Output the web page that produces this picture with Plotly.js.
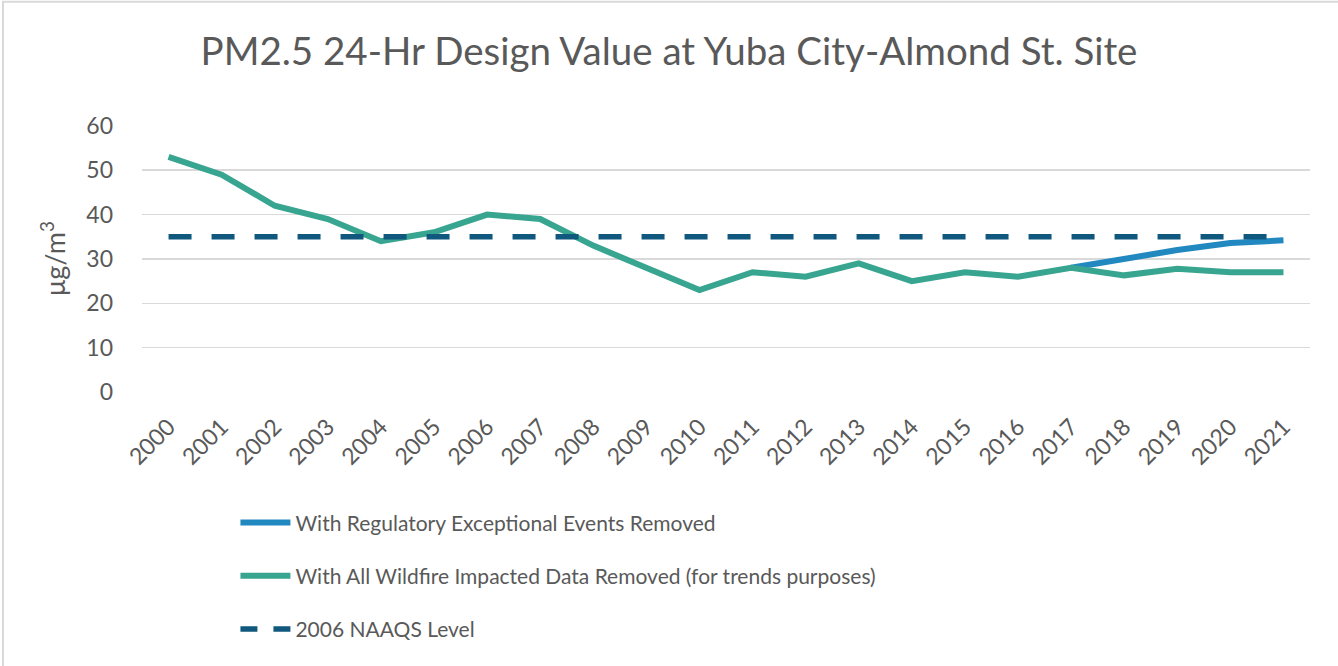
<!DOCTYPE html>
<html>
<head>
<meta charset="utf-8">
<script src="https://cdn.plot.ly/plotly-3.0.1.min.js"></script>
<style>html,body{margin:0;padding:0;background:#fff;}#chart{width:1338px;height:666px;}</style>
</head>
<body>
<div id="chart"></div>
<script>
const years = ["2000","2001","2002","2003","2004","2005","2006","2007","2008","2009","2010","2011","2012","2013","2014","2015","2016","2017","2018","2019","2020","2021"];
const regulatoryRemoved = [null,null,null,null,null,null,null,null,null,null,null,null,null,null,null,null,null,28,30,32,33.6,34.2];
const wildfireRemoved = [53,49,42,39,34,36,40,39,33,28,23,27,26,29,25,27,26,28,26.3,27.8,27,27];
const naaqs = [35,35,35,35,35,35,35,35,35,35,35,35,35,35,35,35,35,35,35,35,35,35];
const yTicks = [0,10,20,30,40,50,60];
const seriesNames = ['With Regulatory Exceptional Events Removed', 'With All Wildfire Impacted Data Removed (for trends purposes)', '2006 NAAQS Level'];

const txt = '#595959';
const fontFam = 'Lato, "Open Sans", sans-serif';

const traces = [
  {x: years, y: regulatoryRemoved, name: seriesNames[0], type: 'scatter', mode: 'lines',
   line: {color: '#2188c0', width: 6}, legendgroup: 'a', connectgaps: false},
  {x: years, y: wildfireRemoved, name: seriesNames[1], type: 'scatter', mode: 'lines',
   line: {color: '#38a590', width: 6}, legendgroup: 'b'},
  {x: years, y: naaqs, name: seriesNames[2], type: 'scatter', mode: 'lines', showlegend: false,
   line: {color: '#11587e', width: 5.5, dash: '23px,20px'}, legendgroup: 'c'},
  // legend entry for the NAAQS line (shorter dash pattern, as in the reference legend)
  {x: [years[0]], y: [null], name: seriesNames[2], type: 'scatter', mode: 'lines', showlegend: true,
   line: {color: '#11587e', width: 5.5, dash: '17px,16px'}, legendgroup: 'c', hoverinfo: 'skip'}
];

const layout = {
  width: 1338, height: 666,
  margin: {l: 142, r: 28, t: 125, b: 274},
  paper_bgcolor: '#fff', plot_bgcolor: '#fff',
  font: {family: fontFam, color: txt, size: 20},
  title: {text: 'PM2.5 24-Hr Design Value at Yuba City-Almond St. Site', font: {family: fontFam, size: 38.5, color: txt},
          x: 0.5, xanchor: 'center', y: 0.922, yanchor: 'middle'},
  xaxis: {type: 'category', range: [-0.5, 21.5], tickangle: -45, showgrid: false, zeroline: false, showline: false,
          ticks: '', tickfont: {size: 23, color: txt}, ticklabelstandoff: 16, fixedrange: true},
  yaxis: {range: [0, 60.2], tickvals: yTicks, ticktext: yTicks.map(String), showgrid: true, gridcolor: '#d9d9d9', gridwidth: 1.5,
          zeroline: false, showline: false, ticks: '', tickfont: {size: 23, color: txt}, ticklabelstandoff: 28,
          title: {text: 'μg/m<sup>3</sup>', font: {size: 27, color: txt}, standoff: 12}, fixedrange: true},
  showlegend: true,
  legend: {orientation: 'v', x: 0.08, xanchor: 'left', y: -0.413, yanchor: 'top', font: {size: 21, color: txt},
           tracegroupgap: 23, itemwidth: 50, bgcolor: 'rgba(0,0,0,0)'},
  shapes: [
    {type: 'rect', xref: 'paper', yref: 'paper', x0: -0.119, x1: 1.3, y0: -2, y1: 1.462,
     line: {color: '#d9d9d9', width: 2}, fillcolor: 'rgba(0,0,0,0)', layer: 'below'}
  ]
};

Plotly.newPlot('chart', traces, layout, {displayModeBar: false, staticPlot: true});
</script>
</body>
</html>
